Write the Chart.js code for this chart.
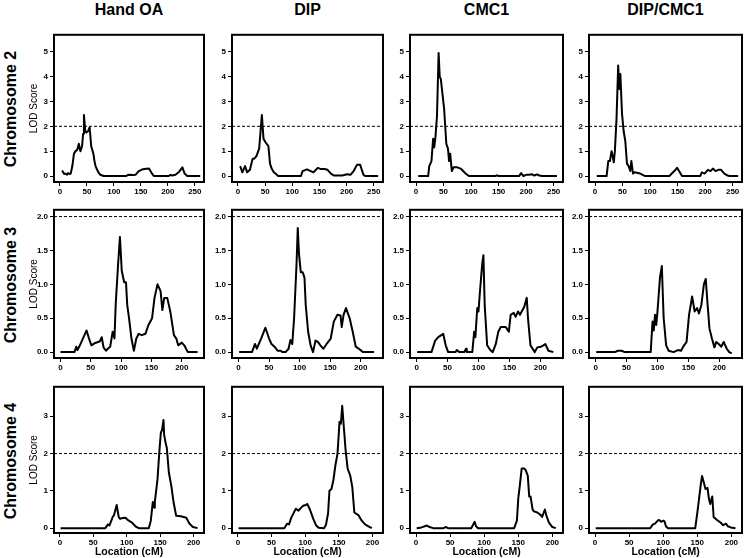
<!DOCTYPE html>
<html>
<head>
<meta charset="utf-8">
<script src="https://cdn.jsdelivr.net/npm/chart.js@4.4.1/dist/chart.umd.min.js"></script>
<style>
  html, body { margin: 0; padding: 0; background: #fff; }
  #page { position: relative; width: 746px; height: 558px; overflow: hidden; font-family: "Liberation Sans", Arial, sans-serif; }
  canvas { position: absolute; }
  .colTitle { position: absolute; top: 1px; font-weight: bold; font-size: 16px; transform: translateX(-50%); white-space: nowrap; }
  .rowTitle { position: absolute; font-weight: bold; font-size: 16px; white-space: nowrap; transform: translate(-50%, -50%) rotate(-90deg); }
</style>
</head>
<body>
<div id="page"></div>
<script>
// Column / row headings
const traits = ['Hand OA', 'DIP', 'CMC1', 'DIP/CMC1'];
const chromosomes = ['Chromosome 2', 'Chromosome 3', 'Chromosome 4'];
const lodThreshold = 2;

// Tick labels per row (chromosome)
const xTicks = [[0, 50, 100, 150, 200, 250], [0, 50, 100, 150, 200], [0, 50, 100, 150, 200]];
const yTicks = [[0, 1, 2, 3, 4, 5], [0, 0.5, 1.0, 1.5, 2.0], [0, 1, 2, 3]];

// Chromosome 2
const handOA_chr2_cM  = [4,8,10,13,15,18,20,23,26,29,32,35,38,41,43,44.5,47,49,52,55,58,62,64,66,69,72,75,81,122,125,128,135,140,146,151,156,165,170,174,202,205,208,214,220,227,231,236,260];
const handOA_chr2_lod = [0.22,0.08,0.1,0.05,0.12,0.08,0.1,0.4,0.9,1.0,1.05,1.3,1.0,1.2,1.7,2.45,1.8,1.75,1.8,1.96,1.2,0.9,0.6,0.4,0.25,0.12,0.05,0,0,0.03,0.05,0.04,0.05,0.2,0.25,0.28,0.3,0.12,0,0,0.05,0.02,0.05,0.15,0.35,0.1,0,0];
const dip_chr2_cM  = [4,8,13,17,22,27,30,34,39,44,47,51,56,59,62,66,69,74,116,119,127,134,139,147,153,159,165,171,177,192,201,207,213,219,225,231,234,258];
const dip_chr2_lod = [0.4,0.15,0.4,0.15,0.25,0.7,0.7,0.8,1.1,2.45,1.5,1.35,1.2,0.5,0.3,0.15,0.1,0,0,0.2,0.27,0.2,0.15,0.33,0.28,0.28,0.25,0.1,0.02,0.02,0.07,0.05,0.2,0.45,0.45,0.05,0,0];
const cmc1_chr2_cM  = [4,22,24,28,31,33,35,38,41,43,45,48,51,55,58,60,62,65,68,75,81,90,96,144,147,150,187,191,195,200,205,211,215,220,224,229,256];
const cmc1_chr2_lod = [0,0,0.4,0.6,1.5,1.15,1.5,2.4,4.95,4.0,3.9,3.3,2.7,1.3,1.1,0.6,0.9,0.2,0.35,0.35,0.3,0.1,0,0,0.03,0,0,0.12,0,0.05,0.05,0.07,0.02,0.07,0.02,0,0];
const dipCmc1_chr2_cM  = [3,21,24,27,30,32,34,36,39,42,44,46,49,52,55,58,61,64,66,69,72,82,91,135,144,149,154,158,191,194,199,205,210,214,219,224,229,235,241,244,260];
const dipCmc1_chr2_lod = [0,0,0.6,0.6,1.0,0.8,0.55,1.0,2.3,4.45,3.5,4.1,2.5,1.8,1.4,0.5,0.4,0.2,0.6,0.1,0.15,0.1,0,0,0.2,0.33,0.15,0,0,0.15,0.1,0.25,0.2,0.3,0.2,0.25,0.25,0.1,0.02,0,0];

// Chromosome 3
const handOA_chr3_cM  = [0,23,26,28,32,38,43,47,51,56,62,65,68,71,75,78,82,86,89,91,95,98,101,105,108,110,113,117,121,125,129,134,140,145,151,155,160,165,168,171,176,181,187,191,194,200,204,210,226];
const handOA_chr3_lod = [0,0,0.08,0.03,0.1,0.22,0.32,0.2,0.1,0.13,0.15,0.16,0.22,0.07,0.02,0.05,0.08,0.3,0.2,0.7,1.3,1.7,1.2,1.03,1.03,0.7,0.5,0.2,0.02,0.2,0.27,0.25,0.27,0.4,0.5,0.8,1.0,0.9,0.62,0.8,0.8,0.6,0.25,0.2,0.1,0.14,0.1,0,0];
const dip_chr3_cM  = [1,22,27,30,37,44,50,54,59,64,69,72,77,82,85,88,91,95,97,99,102,105,108,110,114,118,122,126,130,134,139,145,151,156,162,167,169,172,176,182,187,192,197,204,222];
const dip_chr3_lod = [0,0,0.12,0.05,0.2,0.36,0.2,0.12,0.08,0.02,0.02,0,0,0.05,0.18,0.12,0.5,1.3,1.83,1.45,1.18,1.18,1.1,0.7,0.3,0.1,0,0.17,0.15,0.1,0.05,0.13,0.2,0.45,0.55,0.54,0.37,0.55,0.65,0.5,0.3,0.08,0.05,0,0];
const cmc1_chr3_cM  = [1,24,30,35,43,47,51,63,65,69,77,80,81,90,93,95,98,100,102,106,108,110,114,119,123,128,132,136,144,149,152,157,160,164,167,174,178,180,184,191,195,201,205,208,213,221];
const cmc1_chr3_lod = [0,0,0.17,0.22,0.27,0.1,0,0,0.03,0,0,0.05,0,0,0.3,0.22,0.65,0.6,0.85,1.3,1.43,0.7,0.1,0.03,0,0.12,0.3,0.37,0.37,0.3,0.55,0.58,0.52,0.6,0.55,0.67,0.8,0.5,0.1,0,0.07,0.08,0.1,0.12,0.02,0];
const dipCmc1_chr3_cM  = [1,31,36,42,47,89,92,94,96,98,100,104,107,110,114,118,126,133,138,143,147,151,156,160,164,167,171,175,178,181,184,188,192,195,199,203,207,212,216,220];
const dipCmc1_chr3_lod = [0,0,0.02,0.02,0,0,0.45,0.32,0.55,0.4,0.6,1.1,1.27,0.5,0.1,0.02,0,0.03,0.02,0.1,0.15,0.55,0.82,0.6,0.65,0.57,0.7,1.0,1.08,0.7,0.35,0.2,0.07,0.15,0.12,0.08,0.15,0.05,0,-0.02];

// Chromosome 4
const handOA_chr4_cM  = [1,68,72,74,77,79,81,85,88,90,94,98,103,108,113,118,133,136,139,141,142,146,149,151,153,155,156,158,160,163,167,170,174,181,189,194,199,206];
const handOA_chr4_lod = [0,0,0.1,0.07,0.2,0.3,0.35,0.62,0.3,0.25,0.27,0.28,0.2,0.15,0.05,0,0,0.2,0.7,0.55,0.7,1.3,2.1,2.55,2.65,2.9,2.5,2.3,2.15,1.5,1.1,0.7,0.33,0.32,0.28,0.12,0.03,0];
const dip_chr4_cM  = [1,69,73,76,79,84,86,90,94,97,101,103,107,112,116,120,128,131,134,136,139,142,145,148,151,153,155,157,160,163,167,170,173,179,184,189,194,199];
const dip_chr4_lod = [0,0,0.12,0.1,0.27,0.45,0.52,0.47,0.55,0.6,0.62,0.65,0.5,0.25,0.08,0.01,0,0.1,0.4,1.0,1.05,1.3,1.7,2.0,2.85,2.8,3.28,2.8,2.1,1.6,1.4,1.1,0.42,0.35,0.2,0.1,0.05,0];
const cmc1_chr4_cM  = [1,8,16,20,25,40,44,47,81,84,86,88,91,144,148,150,152,155,159,161,164,166,168,171,173,178,183,185,189,191,195,200,205];
const cmc1_chr4_lod = [0,0.02,0.07,0.03,0,0,0.03,0,0,0.1,0.17,0.05,0,0,0.2,0.8,1.1,1.6,1.6,1.55,1.4,0.85,0.85,0.5,0.45,0.42,0.35,0.3,0.5,0.35,0.15,0.03,0];
const dipCmc1_chr4_cM  = [1,81,85,88,92,94,97,100,102,104,107,147,150,152,155,157,160,162,165,167,169,172,174,179,184,188,192,195,199,206];
const dipCmc1_chr4_lod = [0,0,0.1,0.12,0.2,0.22,0.17,0.2,0.18,0.05,0,0,0.4,0.7,1.15,1.4,1.2,1.05,1.08,0.8,0.65,0.85,0.3,0.22,0.15,0.08,0.12,0.05,0.02,0];

const series = [
    [[handOA_chr2_cM, handOA_chr2_lod], [dip_chr2_cM, dip_chr2_lod], [cmc1_chr2_cM, cmc1_chr2_lod], [dipCmc1_chr2_cM, dipCmc1_chr2_lod]],
    [[handOA_chr3_cM, handOA_chr3_lod], [dip_chr3_cM, dip_chr3_lod], [cmc1_chr3_cM, cmc1_chr3_lod], [dipCmc1_chr3_cM, dipCmc1_chr3_lod]],
    [[handOA_chr4_cM, handOA_chr4_lod], [dip_chr4_cM, dip_chr4_lod], [cmc1_chr4_cM, cmc1_chr4_lod], [dipCmc1_chr4_cM, dipCmc1_chr4_lod]],
];

// Layout (plot frames in page pixels) and axis limits per row
const frameLeft = [54, 232, 410, 589];
const frameRight = [204, 383, 563, 742];
const frameTop = [32, 207, 384];
const frameBottom = [182, 358, 533];
const xLimits = [[-11, 267], [-10.7, 236.6], [-8.8, 215.6]];
const yLimits = [[-0.24, 5.68], [-0.087, 2.1], [-0.13, 3.79]];

const tickFont = { family: '"Liberation Sans", Arial, sans-serif', size: 8, weight: 'bold' };

// draws the box round the plot area
const framePlugin = {
    id: 'frame',
    afterDatasetsDraw(chart) {
        const { ctx, chartArea: a } = chart;
        ctx.save();
        ctx.strokeStyle = '#000';
        ctx.lineWidth = 2;
        ctx.strokeRect(a.left, a.top, a.right - a.left, a.bottom - a.top);
        ctx.restore();
    }
};

const page = document.getElementById('page');

traits.forEach((t, c) => {
    const d = document.createElement('div');
    d.className = 'colTitle';
    d.textContent = t;
    d.style.left = ((frameLeft[c] + frameRight[c]) / 2) + 'px';
    page.appendChild(d);
});

chromosomes.forEach((t, r) => {
    const d = document.createElement('div');
    d.className = 'rowTitle';
    d.textContent = t;
    d.style.left = '11px';
    d.style.top = ((frameTop[r] + frameBottom[r]) / 2 + 2) + 'px';
    page.appendChild(d);
});

function makePanel(r, c) {
    const yw = c === 0 ? 34 : 24;
    const xh = r === 2 ? 25 : 20;
    const padTop = 4, padRight = 3;
    const w = yw + (frameRight[c] - frameLeft[c]) + padRight;
    const h = padTop + (frameBottom[r] - frameTop[r]) + xh;

    const canvas = document.createElement('canvas');
    canvas.width = w;
    canvas.height = h;
    canvas.style.left = (frameLeft[c] - yw) + 'px';
    canvas.style.top = (frameTop[r] - padTop) + 'px';
    page.appendChild(canvas);

    const [xs, ys] = series[r][c];
    const curve = xs.map((x, i) => ({ x: x, y: ys[i] }));
    const threshold = [{ x: xLimits[r][0], y: lodThreshold }, { x: xLimits[r][1], y: lodThreshold }];

    new Chart(canvas.getContext('2d'), {
        type: 'line',
        data: {
            datasets: [
                {
                    data: threshold,
                    borderColor: '#000',
                    borderWidth: 1,
                    borderDash: [3, 2],
                    pointRadius: 0,
                },
                {
                    data: curve,
                    borderColor: '#000',
                    borderWidth: 2,
                    pointRadius: 0,
                    tension: 0,
                    borderJoinStyle: 'round',
                }
            ]
        },
        options: {
            responsive: false,
            animation: false,
            events: [],
            layout: { padding: { top: padTop, right: padRight, left: 0, bottom: 0 } },
            plugins: { legend: { display: false }, tooltip: { enabled: false } },
            scales: {
                x: {
                    type: 'linear',
                    min: xLimits[r][0],
                    max: xLimits[r][1],
                    afterBuildTicks: (s) => { s.ticks = xTicks[r].map(v => ({ value: v })); },
                    afterFit: (s) => { s.height = xh; },
                    grid: { display: true, drawOnChartArea: false, drawTicks: true, tickLength: 4, color: '#000' },
                    border: { display: false },
                    ticks: { color: '#000', font: tickFont, padding: 1, autoSkip: false, maxRotation: 0 },
                    title: {
                        display: r === 2,
                        text: 'Location (cM)',
                        color: '#000',
                        font: { family: '"Liberation Sans", Arial, sans-serif', size: 10.5, weight: 'bold' },
                        padding: 0
                    }
                },
                y: {
                    type: 'linear',
                    min: yLimits[r][0],
                    max: yLimits[r][1],
                    afterBuildTicks: (s) => { s.ticks = yTicks[r].map(v => ({ value: v })); },
                    afterFit: (s) => { s.width = yw; },
                    grid: { display: true, drawOnChartArea: false, drawTicks: true, tickLength: 4, color: '#000' },
                    border: { display: false },
                    ticks: {
                        color: '#000',
                        font: tickFont,
                        padding: 2,
                        callback: (v) => r === 1 ? Number(v).toFixed(1) : String(v)
                    },
                    title: {
                        display: c === 0,
                        text: 'LOD Score',
                        color: '#000',
                        font: { family: '"Liberation Sans", Arial, sans-serif', size: 10 },
                        padding: { top: 8, bottom: 0 }
                    }
                }
            }
        },
        plugins: [framePlugin]
    });
}

for (let r = 0; r < 3; r++) {
    for (let c = 0; c < 4; c++) makePanel(r, c);
}
</script>
</body>
</html>
